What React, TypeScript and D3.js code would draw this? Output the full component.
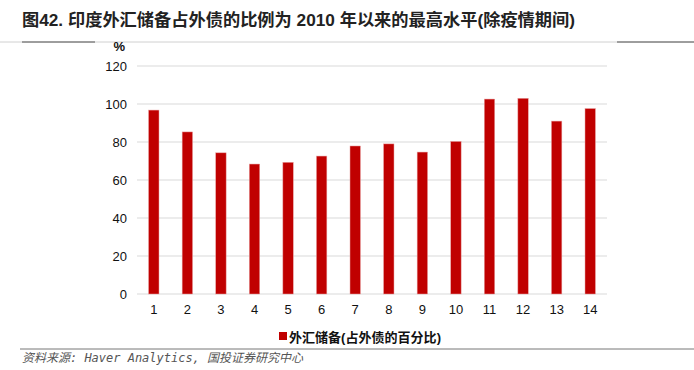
import React from "react";
import * as d3 from "d3";

const categories = ["1","2","3","4","5","6","7","8","9","10","11","12","13","14"];
const values = [96.8, 85.3, 74.3, 68.4, 69.3, 72.6, 77.9, 79.0, 74.7, 80.3, 102.6, 103.0, 91.0, 97.6];
const yTicks = [0, 20, 40, 60, 80, 100, 120];
const seriesName = "外汇储备(占外债的百分比)";
const titleText = "图42. 印度外汇储备占外债的比例为 2010 年以来的最高水平(除疫情期间)";
const sourceText = "资料来源: Haver Analytics, 国投证券研究中心";

const W = 694, H = 370;
const left = 137, right = 607, top = 66, bottom = 294;
const font = "'Liberation Sans', Arial, 'Noto Sans CJK SC', sans-serif";

export default function App() {
  const x = d3.scaleBand().domain(categories).range([left, right]).paddingInner(0.69).paddingOuter(0.345);
  const y = d3.scaleLinear().domain([0, 120]).range([bottom, top]);
  return (
    <svg width={W} height={H} style={{ position: "absolute", left: 0, top: 0, background: "#fff" }} fontFamily={font}>
      <rect x={0} y={0} width={W} height={H} fill="#fff" />
      <text x={22} y={26} fontSize={16.5} fontWeight="bold" fill="#222" textLength={553} lengthAdjust="spacingAndGlyphs">{titleText}</text>
      <line x1={0} x2={W} y1={42} y2={42} stroke="#d0d0d0" strokeWidth={1} />
      <line x1={22} x2={95} y1={42} y2={42} stroke="#555" strokeWidth={1.2} />
      <line x1={617} x2={W} y1={42} y2={42} stroke="#555" strokeWidth={1.2} />
      {yTicks.map(t => (
        <g key={t}>
          <line x1={left} x2={right} y1={y(t)} y2={y(t)} stroke="#d9d9d9" strokeWidth={1} />
          <text x={127} y={y(t)} dy="0.35em" textAnchor="end" fontSize={13} fill="#111">{t}</text>
        </g>
      ))}
      <text x={125} y={46} dy="0.35em" textAnchor="end" fontSize={13} fontWeight="bold" fill="#111">%</text>
      {categories.map((c, i) => (
        <rect key={c} x={x(c)!} y={y(values[i])} width={x.bandwidth()} height={y(0) - y(values[i])} fill="#C00000" stroke="#e8a0a0" strokeWidth={0.5} />
      ))}
      {categories.map(c => (
        <text key={c} x={x(c)! + x.bandwidth() / 2} y={309} dy="0.35em" textAnchor="middle" fontSize={13} fill="#111">{c}</text>
      ))}
      <rect x={279} y={332} width={8} height={8} fill="#C00000" />
      <text x={289} y={337} dy="0.35em" fontSize={13} fontWeight="bold" fill="#111" textLength={152} lengthAdjust="spacingAndGlyphs">{seriesName}</text>
      <line x1={20} x2={W} y1={349} y2={349} stroke="#777" strokeWidth={1} />
      <text x={22} y={362} fontSize={12} fontStyle="italic" fill="#555" textLength={281} lengthAdjust="spacing" fontFamily="'DejaVu Sans Mono', 'Noto Sans CJK SC', sans-serif">{sourceText}</text>
    </svg>
  );
}
